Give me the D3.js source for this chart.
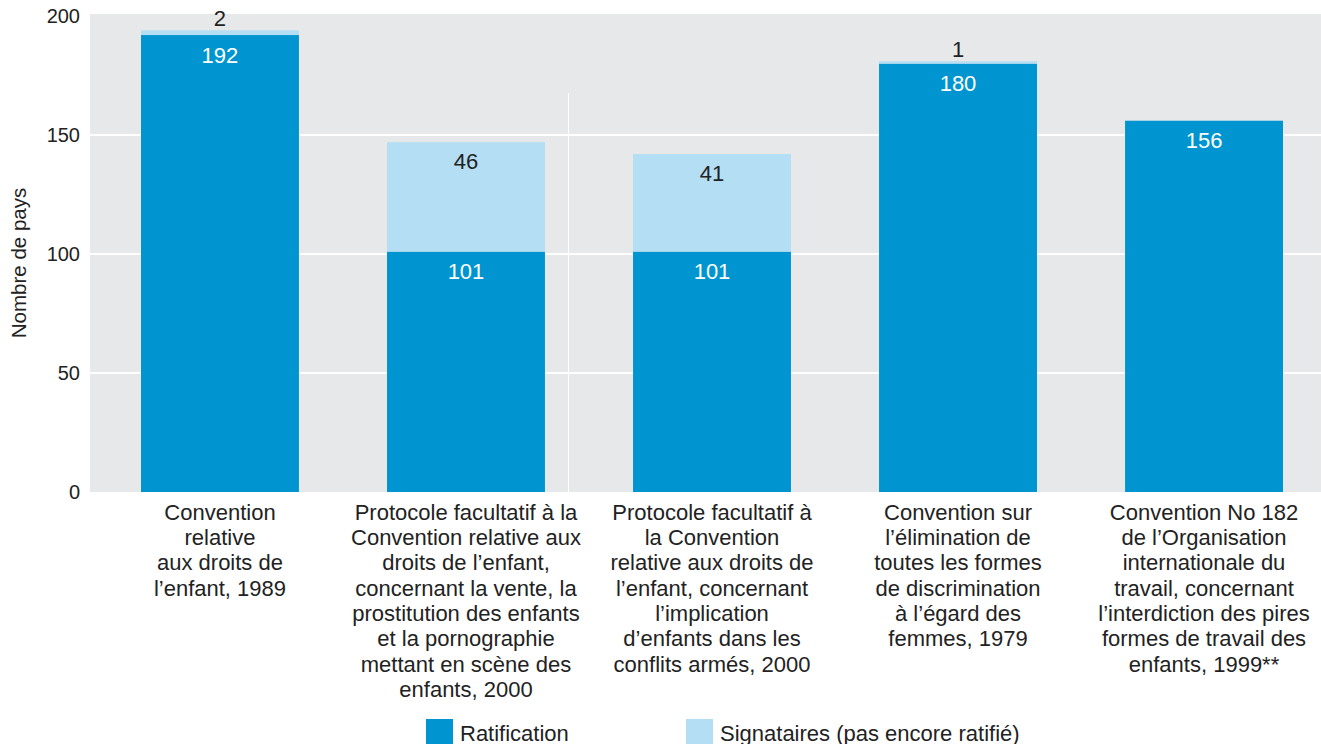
<!DOCTYPE html>
<html>
<head>
<meta charset="utf-8">
<script src="https://cdn.jsdelivr.net/npm/d3@7"></script>
<style>
  body { margin: 0; background: #fff; }
  text { font-family: "Liberation Sans", Arial, sans-serif; }
</style>
</head>
<body>
<svg></svg>
<script>
const width = 1321,
  height = 744

// data
const categories = ["crc", "opsc", "opac", "cedaw", "ilo182"]
const labels = [
  ["Convention", "relative", "aux droits de", "l\u2019enfant, 1989"],
  ["Protocole facultatif \u00e0 la", "Convention relative aux", "droits de l\u2019enfant,", "concernant la vente, la", "prostitution des enfants", "et la pornographie", "mettant en sc\u00e8ne des", "enfants, 2000"],
  ["Protocole facultatif \u00e0", "la Convention", "relative aux droits de", "l\u2019enfant, concernant", "l\u2019implication", "d\u2019enfants dans les", "conflits arm\u00e9s, 2000"],
  ["Convention sur", "l\u2019\u00e9limination de", "toutes les formes", "de discrimination", "\u00e0 l\u2019\u00e9gard des", "femmes, 1979"],
  ["Convention No 182", "de l\u2019Organisation", "internationale du", "travail, concernant", "l\u2019interdiction des pires", "formes de travail des", "enfants, 1999**"]
]
const ratification = [192, 101, 101, 180, 156]
const signataires = [2, 46, 41, 1, 0]
const yTicks = [0, 50, 100, 150, 200]
const seriesNames = ["Ratification", "Signataires (pas encore ratifi\u00e9)"]

const colDark = "#0095d0",
  colLight = "#b3def3"

const svg = d3.select("svg").attr("width", width).attr("height", height)

const plot = { left: 90, right: 1321, top: 16, bottom: 492 }

const x = d3.scaleBand().domain(categories).range([141, 1283]).paddingInner(0.358).paddingOuter(0)
const y = d3.scaleLinear().domain([0, 200]).range([plot.bottom, plot.top])

// background
svg.append("rect")
  .attr("x", plot.left).attr("y", plot.top - 2)
  .attr("width", plot.right - plot.left).attr("height", plot.bottom - plot.top + 2)
  .attr("fill", "#e7e8ea")

// gridlines
svg.append("g").selectAll("line")
  .data(yTicks.filter(d => d > 0 && d < 200))
  .join("line")
  .attr("x1", plot.left).attr("x2", plot.right)
  .attr("y1", d => y(d)).attr("y2", d => y(d))
  .attr("stroke", "#fff").attr("stroke-width", 2)

// the odd divider in the original
svg.append("line")
  .attr("x1", 568.5).attr("x2", 568.5)
  .attr("y1", 93).attr("y2", plot.bottom)
  .attr("stroke", "#fff").attr("stroke-width", 1)

// y axis labels
const yAxis = d3.axisLeft(y).tickValues(yTicks).tickSize(0).tickPadding(10)
const ya = svg.append("g").attr("transform", `translate(${plot.left},0)`).call(yAxis)
ya.select(".domain").remove()
ya.selectAll("text")
  .attr("font-size", 20).attr("fill", "#222")
  .attr("font-family", "'Liberation Sans', Arial, sans-serif")

svg.append("text")
  .attr("transform", `translate(26,${y(100) + 9}) rotate(-90)`)
  .attr("text-anchor", "middle")
  .attr("font-size", 20.5).attr("fill", "#222")
  .text("Nombre de pays")

// bars
const rows = categories.map((c, i) => ({ c, r: ratification[i], s: signataires[i] }))
const g = svg.append("g")

g.selectAll("rect.r").data(rows).join("rect")
  .attr("class", "r")
  .attr("x", d => x(d.c)).attr("width", x.bandwidth())
  .attr("y", d => y(d.r)).attr("height", d => y(0) - y(d.r))
  .attr("fill", colDark)

g.selectAll("rect.s").data(rows.filter(d => d.s > 0)).join("rect")
  .attr("class", "s")
  .attr("x", d => x(d.c)).attr("width", x.bandwidth())
  .attr("y", d => y(d.r + d.s)).attr("height", d => y(d.r) - y(d.r + d.s))
  .attr("fill", colLight)

// value labels
g.selectAll("text.r").data(rows).join("text")
  .attr("class", "r")
  .attr("x", d => x(d.c) + x.bandwidth() / 2)
  .attr("y", d => y(d.r) + 20)
  .attr("dy", "0.35em")
  .attr("text-anchor", "middle")
  .attr("font-size", 22).attr("fill", "#fff")
  .text(d => d.r)

g.selectAll("text.s").data(rows.filter(d => d.s > 0)).join("text")
  .attr("class", "s")
  .attr("x", d => x(d.c) + x.bandwidth() / 2)
  .attr("y", d => d.s < 10 ? y(d.r + d.s) - 12 : y(d.r + d.s) + 19)
  .attr("dy", "0.35em")
  .attr("text-anchor", "middle")
  .attr("font-size", 22).attr("fill", "#222")
  .text(d => d.s)

// category labels
const cl = svg.append("g").selectAll("text").data(categories).join("text")
  .attr("x", d => x(d) + x.bandwidth() / 2)
  .attr("y", 512)
  .attr("text-anchor", "middle")
  .attr("font-size", 22).attr("fill", "#222")
cl.each(function (d, i) {
  d3.select(this).selectAll("tspan").data(labels[i]).join("tspan")
    .attr("x", x(d) + x.bandwidth() / 2)
    .attr("dy", (t, j) => j === 0 ? "0.35em" : 25.3)
    .text(t => t)
})

// legend
const legend = svg.append("g")
const legX = [426, 686]
legend.selectAll("rect").data(seriesNames).join("rect")
  .attr("x", (d, i) => legX[i]).attr("y", 719)
  .attr("width", 27).attr("height", 27)
  .attr("fill", (d, i) => i === 0 ? colDark : colLight)
legend.selectAll("text").data(seriesNames).join("text")
  .attr("x", (d, i) => legX[i] + 34).attr("y", 733)
  .attr("dy", "0.35em")
  .attr("font-size", 22).attr("fill", "#222")
  .text(d => d)
</script>
</body>
</html>
